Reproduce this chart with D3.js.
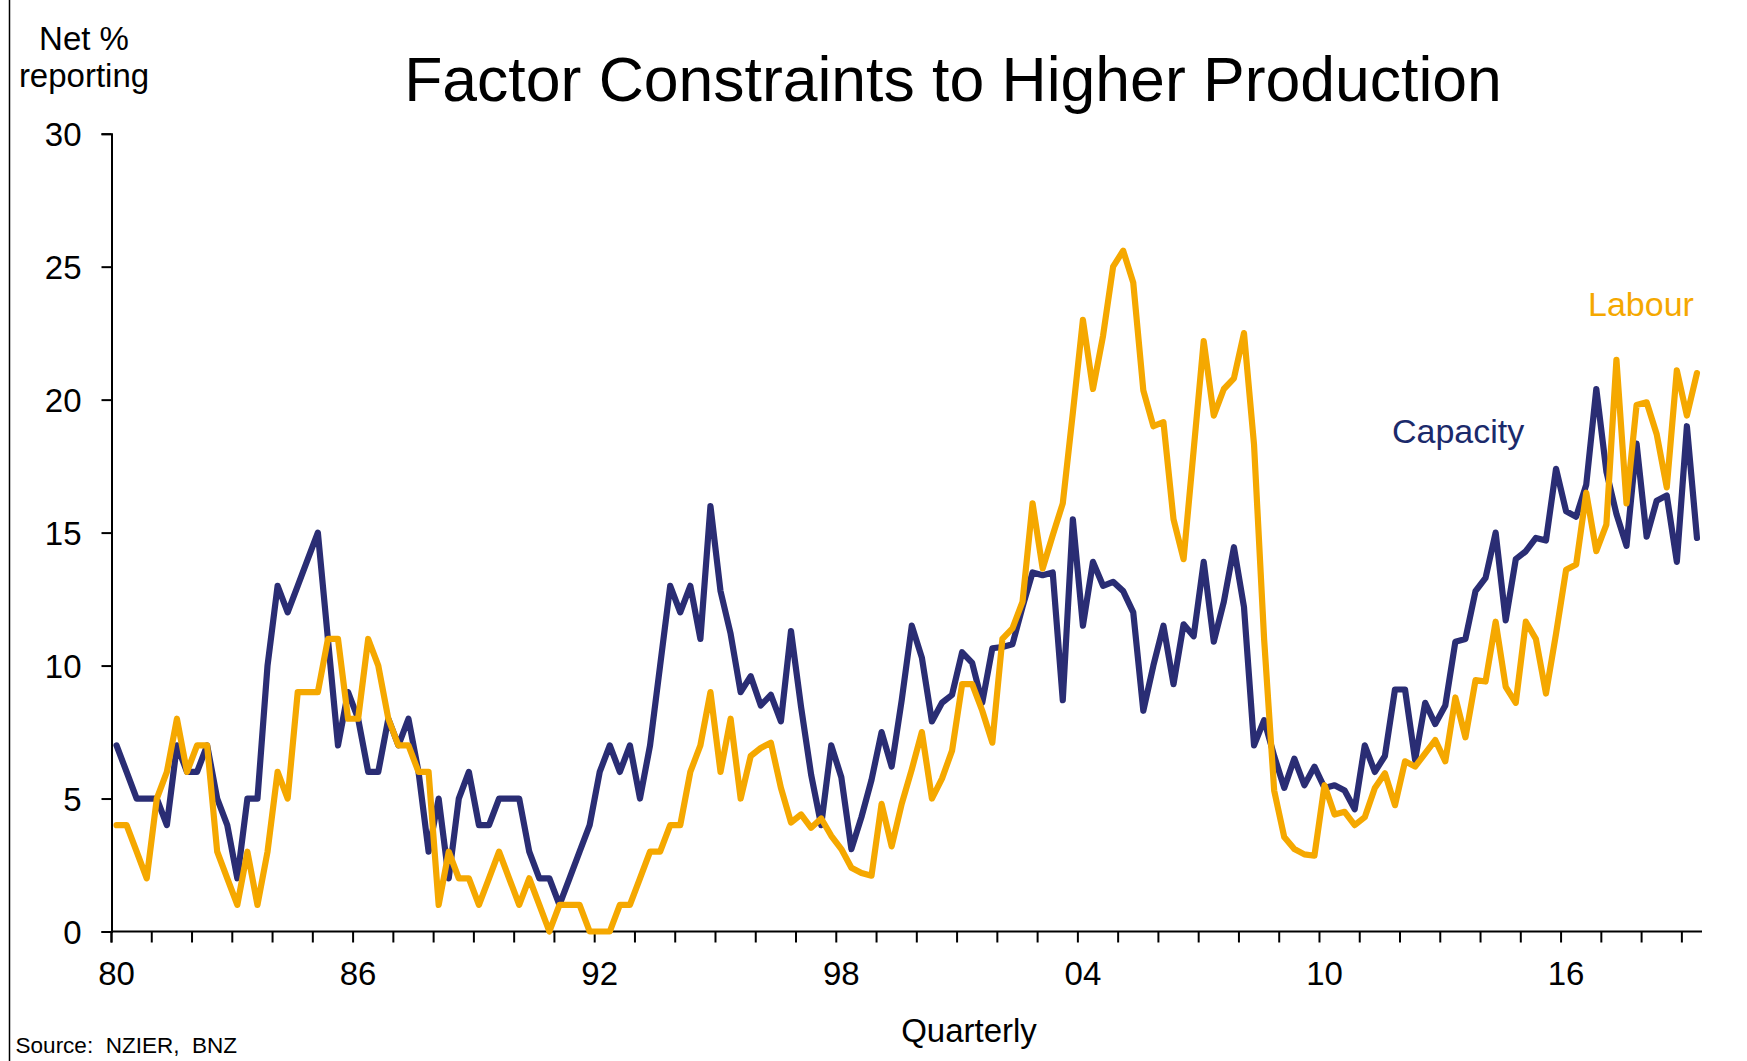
<!DOCTYPE html>
<html><head><meta charset="utf-8">
<script src="https://cdn.jsdelivr.net/npm/d3@7"></script>
<style>
html,body{margin:0;padding:0;background:#fff;}
svg{display:block;font-family:"Liberation Sans",Arial,sans-serif;}
</style></head>
<body>
<svg id="chart" width="1747" height="1061"></svg>
<script>
// ---- data (quarterly, 1980Q1 .. 2019Q2) ----
const startYear = 1980;
const nQuarters = 158;
const tickLabels = ["80","86","92","98","04","10","16"];
const yTicks = [0,5,10,15,20,25,30];

const capacity = [
 7,6,5,5,5,4,7,6,6,7,5,4,2,5,5,10,
 13,12,13,14,15,11,7,9,8,6,6,8,7,8,6,
 3,5,2,5,6,4,4,5,5,5,3,2,2,1,2,
 3,4,6,7,6,7,5,7,10,13,12,13,11,16,12.8,
 11.2,9,9.6,8.5,8.9,7.9,11.3,8.45,5.9,4.0,7.0,5.8,3.1,4.3,5.7,
 7.5,6.2,8.7,11.5,10.3,7.9,8.6,8.9,10.5,10.1,8.6,10.65,10.7,10.8,12.2,
 13.5,13.4,13.5,8.7,15.5,11.5,13.9,13.0,13.15,12.8,12.0,8.3,10.0,11.5,9.3,
 11.55,11.1,13.9,10.9,12.4,14.45,12.2,7.0,7.95,6.6,5.4,6.5,5.5,6.2,5.4,
 5.5,5.3,4.6,7.0,6.0,6.6,9.1,9.1,6.45,8.6,7.8,8.5,10.9,11.0,12.8,
 13.3,15.0,11.7,14.0,14.3,14.8,14.7,17.4,15.8,15.6,16.8,20.4,17.3,15.7,14.5,
 18.35,14.85,16.2,16.4,13.9,19.0,14.8
];
const labour = [
 4,4,3,2,5,6,8,6,7,7,3,2,1,3,1,3,
 6,5,9,9,9,11,11,8,8,11,10,8,7,7,6,
 6,1,3,2,2,1,2,3,2,1,2,1,0,1,1,
 1,0,0,0,1,1,2,3,3,4,4,6,7,9,6,
 8,5,6.6,6.9,7.1,5.4,4.1,4.4,3.9,4.25,3.6,3.1,2.4,2.2,2.1,
 4.8,3.2,4.8,6.1,7.5,5.0,5.75,6.8,9.3,9.3,8.3,7.1,11.0,11.4,12.4,
 16.1,13.65,14.9,16.1,19.5,23.0,20.4,22.4,25.0,25.6,24.4,20.35,19.0,19.15,15.5,
 14.0,18.1,22.2,19.4,20.4,20.8,22.5,18.3,11,5.3,3.55,3.1,2.9,2.85,5.5,
 4.4,4.5,4.0,4.3,5.4,5.95,4.75,6.4,6.2,6.7,7.2,6.4,8.8,7.3,9.45,
 9.4,11.65,9.2,8.6,11.65,11.0,8.95,11.2,13.6,13.8,16.5,14.3,15.3,21.5,16.1,
 19.8,19.9,18.7,16.7,21.1,19.4,21.0
];

// categories: quarter labels
const quarters = [];
for (let i = 0; i < nQuarters; i++) {
  quarters.push((startYear + Math.floor(i/4)) + "Q" + (i%4+1));
}

// ---- layout ----
const svg = d3.select("#chart");
const pLeft = 111.5, pRight = 1702, pTop = 133.7, pBottom = 931.5;
const FONT = 33;
const NAVY = "#2a2d74", ORANGE = "#f5a800";

const x = d3.scaleBand().domain(quarters).range([pLeft, pRight]).padding(0);
const y = d3.scaleLinear().domain([0, 30]).range([pBottom, pTop]);
const cx = q => x(q) + x.bandwidth()/2;

// frame line on the left
svg.append("line").attr("x1",9.5).attr("x2",9.5).attr("y1",0).attr("y2",1061)
  .attr("stroke","#000").attr("stroke-width",1.5);

// y axis
const yAxis = d3.axisLeft(y).tickValues(yTicks).tickSize(10).tickPadding(0).tickFormat(d3.format("d"));
const gy = svg.append("g").attr("transform",`translate(${pLeft},0)`).call(yAxis);
gy.select(".domain").attr("stroke","#000").attr("stroke-width",2);
gy.selectAll(".tick line").attr("stroke","#000").attr("stroke-width",2);
gy.selectAll(".tick text").attr("x",-30).attr("dy","0.35em").attr("font-size",FONT)
  .attr("font-family","Liberation Sans, Arial, sans-serif").attr("fill","#000");
svg.append("line").attr("x1",pLeft).attr("x2",pLeft).attr("y1",pBottom).attr("y2",pBottom+11)
  .attr("stroke","#000").attr("stroke-width",2);

// x axis: line + ticks at year boundaries
const yearStarts = quarters.filter((q,i) => i % 4 === 0);
svg.append("line").attr("x1",pLeft).attr("x2",pRight).attr("y1",pBottom).attr("y2",pBottom)
  .attr("stroke","#000").attr("stroke-width",2);
svg.append("g").selectAll("line").data(yearStarts).join("line")
  .attr("x1",d=>x(d)).attr("x2",d=>x(d)).attr("y1",pBottom).attr("y2",pBottom+11)
  .attr("stroke","#000").attr("stroke-width",2);
const labelQuarters = quarters.filter((q,i) => i % 24 === 0);
svg.append("g").selectAll("text").data(labelQuarters).join("text")
  .attr("x",d=>cx(d)).attr("y",985).attr("text-anchor","middle")
  .attr("font-size",FONT).attr("fill","#000")
  .text((d,i)=>tickLabels[i]);

// lines
const line = d3.line().x((d,i)=>cx(quarters[i])).y(d=>y(d));
svg.append("path").datum(capacity).attr("d",line).attr("fill","none")
  .attr("stroke",NAVY).attr("stroke-width",6.2).attr("stroke-linejoin","round").attr("stroke-linecap","round");
svg.append("path").datum(labour).attr("d",line).attr("fill","none")
  .attr("stroke",ORANGE).attr("stroke-width",6.2).attr("stroke-linejoin","round").attr("stroke-linecap","round");

// texts
svg.append("text").attr("x",953).attr("y",101).attr("text-anchor","middle")
  .attr("font-size",62.5).attr("fill","#000").text("Factor Constraints to Higher Production");
svg.append("text").attr("x",84).attr("y",50).attr("text-anchor","middle")
  .attr("font-size",FONT).attr("fill","#000").text("Net %");
svg.append("text").attr("x",84).attr("y",87).attr("text-anchor","middle")
  .attr("font-size",FONT).attr("fill","#000").text("reporting");
svg.append("text").attr("x",969).attr("y",1042).attr("text-anchor","middle")
  .attr("font-size",FONT).attr("fill","#000").text("Quarterly");
svg.append("text").attr("x",15.6).attr("y",1053).attr("font-size",22.5)
  .style("white-space","pre").attr("fill","#000").text("Source:  NZIER,  BNZ");
svg.append("text").attr("x",1588).attr("y",316).attr("font-size",34)
  .attr("fill",ORANGE).text("Labour");
svg.append("text").attr("x",1392).attr("y",443).attr("font-size",34)
  .attr("fill","#1b2a6b").text("Capacity");
</script>
</body></html>
